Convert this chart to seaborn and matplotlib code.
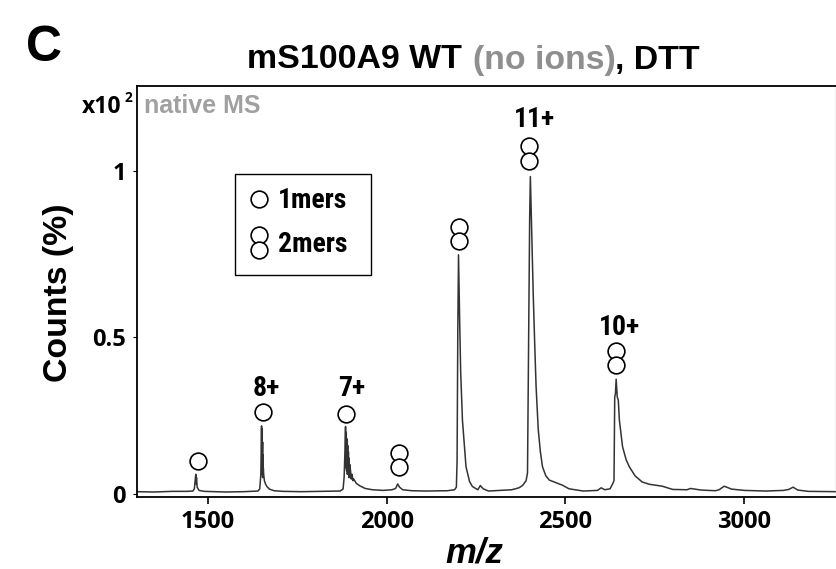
import matplotlib
matplotlib.use('Agg')
import matplotlib.pyplot as plt
from matplotlib.patches import Rectangle
import seaborn as sns

sns.set_theme(style="white")
plt.rcParams['font.family'] = ['Liberation Sans', 'DejaVu Sans']
plt.rcParams['text.color'] = 'black'

# spectrum trace
mz = [1300, 1350, 1400, 1440, 1458, 1462, 1465, 1466, 1467, 1468, 1470, 1475, 1490, 1550, 1600, 1640, 1645,
      1648, 1650, 1651, 1652, 1652, 1653, 1653, 1654, 1654, 1655, 1656, 1658, 1661, 1665, 1672, 1685, 1710, 1760, 1820,
      1870, 1878, 1881, 1883, 1885, 1886, 1887, 1888, 1889, 1890, 1891, 1892, 1893, 1894, 1895, 1896, 1897, 1899, 1901, 1903, 1906, 1908,
      1915, 1925, 1940, 1960, 1990, 2015, 2025, 2031, 2036, 2045, 2070, 2110, 2170, 2190, 2195, 2197,
      2199, 2201, 2204, 2207, 2212, 2222, 2232, 2240, 2255, 2262, 2270, 2285, 2320, 2350, 2370,
      2380, 2390, 2394, 2397, 2400, 2402, 2406, 2410, 2414, 2418, 2424, 2430, 2436, 2445, 2455, 2492, 2510, 2550, 2590,
      2600, 2610, 2625, 2632, 2636, 2638, 2640, 2642, 2645, 2648, 2651, 2660, 2670, 2679, 2695, 2715,
      2735, 2771, 2800, 2840, 2850, 2880, 2920, 2930, 2944, 2965, 3000, 3060, 3110, 3125, 3137, 3150,
      3180, 3257]
counts = [.006, .005, .007, .007, .008, .015, .05, .06, .03, .05, .02, .01, .007, .005, .006, .008, .015,
          .06, .21, .08, .2, .06, .16, .05, .12, .05, .08, .06, .04, .03, .022, .014, .009, .007, .006, .007,
          .008, .014, .05, .12, .208, .08, .19, .07, .17, .06, .15, .06, .13, .05, .11, .05, .09, .07, .045, .06, .04, .045,
          .032, .024, .016, .012, .01, .012, .016, .03, .02, .012, .009, .008, .009, .012, .02, .1,
          .5, .741, .55, .38, .228, .083, .037, .022, .012, .025, .015, .008, .01, .012, .018,
          .025, .04, .064, .44, .85, .984, .8, .62, .47, .333, .2, .13, .083, .056, .042, .026, .015, .008, .01,
          .018, .012, .015, .03, .04, .3, .31, .355, .3, .29, .228, .145, .105, .083, .055, .036,
          .029, .023, .013, .012, .016, .011, .009, .012, .023, .014, .01, .008, .01, .013, .02, .011,
          .007, .006]

# circle annotations
circle_mz = [1472, 1654, 1885, 2034, 2034, 2201, 2201, 2399, 2399, 2641, 2641]
circle_y = [.101, .252, .247, .126, .083, .828, .784, 1.08, 1.033, .443, .399]
legend_mz = [1642, 1642, 1642]
legend_y = [.915, .803, .756]

# charge state labels
charge_labels = ['8+', '7+', '11+', '10+']
charge_mz = [1662, 1902, 2413, 2651]
charge_y = [.325, .325, 1.16, .517]

xticks = [1500, 2000, 2500, 3000]
yticks = [0, 0.485, 1]
ytick_labels = ['0', '0.5', '1']

W, H = 836, 569
NARROW = ['Roboto Condensed', 'Liberation Sans']
TICKF = ['Open Sans', 'Liberation Sans']


def fx(px):
    return px / W


def fy(py):
    return 1 - py / H


fig = plt.figure(figsize=(W / 100, H / 100), dpi=100)
ax = fig.add_axes([fx(137), fy(497), fx(836 - 137), (497 - 86) / H])

sns.lineplot(x=mz, y=counts, sort=False, estimator=None, color='#333333', linewidth=1.1, ax=ax)
sns.scatterplot(x=circle_mz + legend_mz, y=circle_y + legend_y, s=145, color='white',
                edgecolor='black', linewidth=1.2, ax=ax, zorder=5, clip_on=False)

ax.set_xlim(1301.6, 3257)
ax.set_ylim(-0.0105, 1.265)
ax.set_xticks(xticks)
ax.set_yticks(yticks)
ax.set_xticklabels(xticks, fontsize=17, fontweight='bold', family=TICKF, color='black')
ax.set_yticklabels(ytick_labels, fontsize=17, fontweight='bold', family=TICKF, color='black')
ax.tick_params(axis='x', length=5, width=1.2, color='black', pad=4.5, bottom=True)
ax.tick_params(axis='y', length=3, width=0.8, color='black', pad=5, left=True)

for name in ['left', 'top', 'bottom']:
    ax.spines[name].set_color('black')
    ax.spines[name].set_linewidth(1.3)
ax.spines['right'].set_color('#b8b8b8')
ax.spines['right'].set_linewidth(1.0)

for label, x, y in zip(charge_labels, charge_mz, charge_y):
    ax.text(x, y, label, fontsize=20, fontweight='bold', family=NARROW, ha='center', va='center')

# legend box
fig.add_artist(Rectangle((fx(235), fy(275)), (371 - 235) / W, (275 - 174) / H, transform=fig.transFigure,
                         facecolor='none', edgecolor='black', linewidth=1.0))
fig.text(fx(278), fy(200), '1mers', fontsize=20, fontweight='bold', family=NARROW, va='center')
fig.text(fx(278), fy(244), '2mers', fontsize=20, fontweight='bold', family=NARROW, va='center')

# title pieces, middle one is grey
fig.text(fx(247), fy(60), 'mS100A9 WT', fontsize=24.4, fontweight='bold', va='center')
fig.text(fx(473), fy(60), '(no ions)', fontsize=24.4, fontweight='bold', va='center', color='#8f8f8f')
fig.text(fx(615), fy(60), ', DTT', fontsize=24.4, fontweight='bold', va='center')

fig.text(fx(26), fy(48), 'C', fontsize=36, fontweight='bold', va='center')
fig.text(fx(144), fy(106), 'native MS', fontsize=18, fontweight='bold', va='center', color='#a0a0a0')
fig.text(fx(82), fy(107), 'x10', fontsize=16.5, fontweight='bold', family=TICKF, va='center')
fig.text(fx(125), fy(98), '2', fontsize=10, fontweight='bold', family=TICKF, va='center')
fig.text(fx(58), fy(293), 'Counts (%)', fontsize=24.4, fontweight='bold', rotation=90, ha='center', va='center')
fig.text(fx(474), fy(553), 'm/z', fontsize=25, fontweight='bold', style='italic', ha='center', va='center')

fig.savefig('out.png', dpi=100)
